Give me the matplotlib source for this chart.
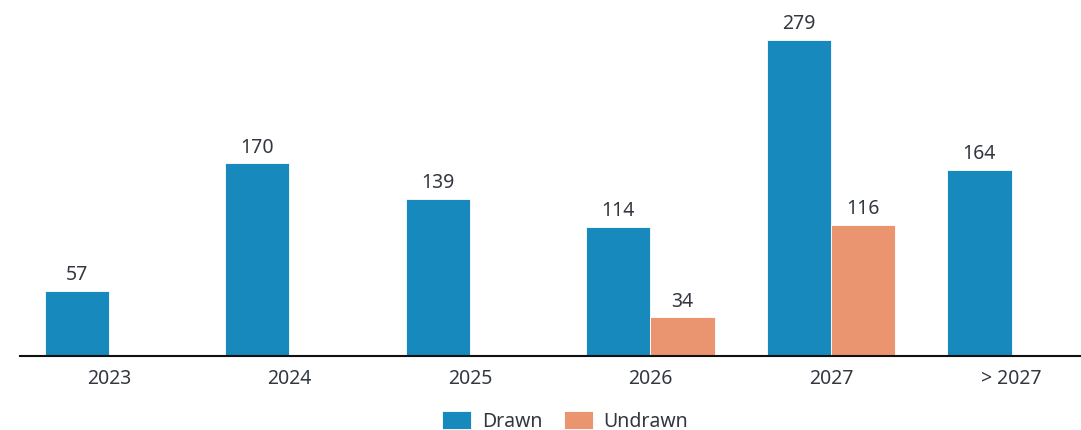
import matplotlib
matplotlib.use("Agg")
import matplotlib.pyplot as plt
import numpy as np

categories = ["2023", "2024", "2025", "2026", "2027", "> 2027"]
drawn = [57, 170, 139, 114, 279, 164]
undrawn = [None, None, None, 34, 116, None]

blue = "#1789BC"
orange = "#EA9570"
txt = "#333840"

plt.rcParams['font.family'] = ['Noto Sans', 'DejaVu Sans']
FS = 14

fig = plt.figure(figsize=(10.81, 4.31), dpi=100)
W, H = 1081, 431
bottom = 74
ax = fig.add_axes([20 / W, bottom / H, (1081 - 20) / W, (431 - bottom) / H])

x = np.arange(len(categories))
bw = 0.355
for i, v in enumerate(drawn):
    ax.bar(i - bw / 2, v, width=bw, color=blue, edgecolor="white", linewidth=0.6,
           label="Drawn" if i == 0 else None)
    ax.annotate(str(v), (i - bw / 2, v), xytext=(0, 5), textcoords="offset points",
                ha="center", va="bottom", fontsize=FS, color=txt)
first = True
for i, v in enumerate(undrawn):
    if v is None:
        continue
    ax.bar(i + bw / 2, v, width=bw, color=orange, edgecolor="white", linewidth=0.6,
           label="Undrawn" if first else None)
    first = False
    ax.annotate(str(v), (i + bw / 2, v), xytext=(0, 5), textcoords="offset points",
                ha="center", va="bottom", fontsize=FS, color=txt)

ax.set_xlim(-0.493, 5.385)
ax.set_ylim(0, (431 - bottom) / 1.1326)
ax.set_xticks(x)
ax.set_xticklabels(categories, fontsize=FS, color=txt)
ax.tick_params(axis="x", length=0, pad=8.5)
ax.set_yticks([])
for s in ["top", "right", "left"]:
    ax.spines[s].set_visible(False)
ax.spines["bottom"].set_color("#111111")
ax.spines["bottom"].set_linewidth(1.5)

fig.legend(loc="center", bbox_to_anchor=(565 / W, 1 - 422 / H), ncol=2, frameon=False,
           fontsize=FS, handlelength=1.5, handleheight=1.05, columnspacing=1.1,
           handletextpad=0.55, labelcolor=txt, borderpad=0.2)

fig.savefig("out.png", dpi=100)
